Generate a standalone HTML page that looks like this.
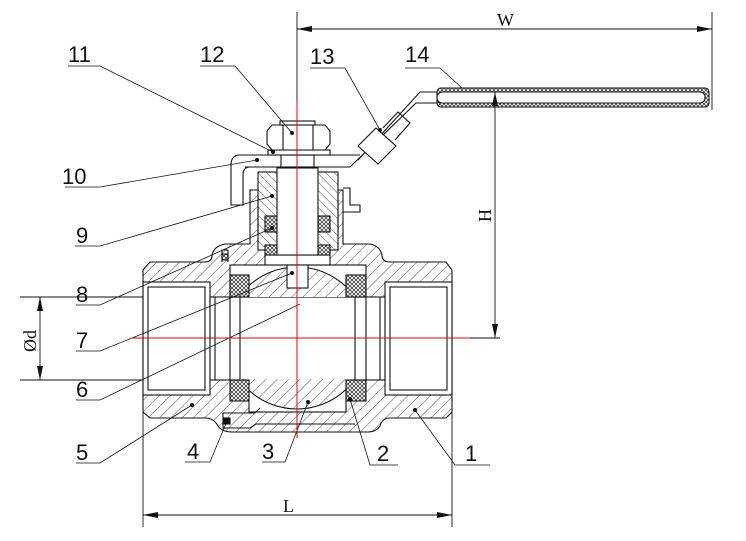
<!DOCTYPE html>
<html><head><meta charset="utf-8"><style>
html,body{margin:0;padding:0;background:#fff}
svg{display:block}
text{font-family:"Liberation Sans",sans-serif;fill:#111}
</style></head><body>
<svg width="746" height="541" viewBox="0 0 746 541" xmlns="http://www.w3.org/2000/svg">
<defs>
<pattern id="h" width="8" height="8" patternUnits="userSpaceOnUse" patternTransform="rotate(45)">
<rect width="8" height="8" fill="#fff"/><line x1="0" y1="0" x2="0" y2="8" stroke="#222" stroke-width="0.8"/></pattern>
<pattern id="h2" width="6" height="6" patternUnits="userSpaceOnUse" patternTransform="rotate(-45)">
<rect width="6" height="6" fill="#fff"/><line x1="0" y1="0" x2="0" y2="6" stroke="#222" stroke-width="0.8"/></pattern>
<pattern id="x" width="4" height="4" patternUnits="userSpaceOnUse">
<rect width="4" height="4" fill="#fff"/><path d="M0 0L4 4M4 0L0 4" stroke="#222" stroke-width="0.7"/></pattern>
<clipPath id="ballclip"><rect x="240" y="250" width="115" height="47"/><rect x="240" y="379" width="115" height="40"/></clipPath>
</defs>
<g stroke="#111" stroke-width="1.1" fill="none">
<!-- body outline -->
<path d="M150 262 L205 262 Q212 262 212 255 Q214 246 225 244 L250 244 L250 190 L343 190 L343 244 L370 244 Q380 246 382 255 Q382 262 390 262 L446 262 L452 270 L452 412 L446 418 L390 418 Q382 418 380 426 Q376 432 368 432 L232 432 Q222 432 218 426 Q214 418 205 418 L150 418 L143 412 L143 270 Z" fill="url(#h)"/>
<!-- bore and end ports -->
<rect x="143" y="282" width="67" height="113" fill="#fff"/>
<rect x="148" y="287" width="57" height="103" fill="#fff"/>
<rect x="385" y="282" width="67" height="113" fill="#fff"/>
<rect x="390" y="287" width="57" height="103" fill="#fff"/>
<rect x="210" y="297" width="175" height="83" fill="#fff"/>
<line x1="215" y1="297" x2="215" y2="380"/><line x1="380" y1="297" x2="380" y2="380"/>
<line x1="230" y1="297" x2="230" y2="380"/><line x1="240" y1="297" x2="240" y2="380"/>
<line x1="355" y1="297" x2="355" y2="380"/><line x1="366" y1="297" x2="366" y2="380"/>
<!-- cavity -->
<rect x="230" y="265" width="136" height="32" fill="#fff"/>
<rect x="249" y="380" width="97" height="32" fill="#fff"/>
<!-- ball -->
<circle cx="297" cy="338" r="71" fill="url(#h)" clip-path="url(#ballclip)"/>
<!-- seats -->
<rect x="230" y="275" width="19" height="22" fill="url(#x)"/>
<rect x="346" y="275" width="20" height="22" fill="url(#x)"/>
<rect x="230" y="380" width="19" height="21" fill="url(#x)"/>
<rect x="346" y="380" width="20" height="21" fill="url(#x)"/>
<!-- bottom body connect -->
<path d="M223 413 L255 413 L260 408 M223 413 L223 428 L250 428 L256 424 L355 424"/>
<rect x="224" y="418" width="6" height="6" fill="#111"/>
<!-- left body joint at top -->
<path d="M222 262 L222 250 L228 250 L228 262"/>
<rect x="222" y="254" width="6" height="6" fill="url(#x)"/>
<!-- neck inner -->
<rect x="258" y="172" width="80" height="78" fill="url(#h2)"/>
<rect x="265" y="255" width="65" height="10" fill="#fff"/>
<rect x="287" y="265" width="21" height="23" fill="#fff"/>
<rect x="265" y="216" width="12" height="16" fill="url(#x)"/>
<rect x="318" y="216" width="12" height="16" fill="url(#x)"/>
<rect x="265" y="245" width="12" height="10" fill="url(#x)"/>
<rect x="318" y="245" width="12" height="10" fill="url(#x)"/>
<line x1="258" y1="195" x2="258" y2="232"/><line x1="338" y1="195" x2="338" y2="232"/>
<!-- stem -->
<rect x="277" y="168" width="41" height="87" fill="#fff"/>
<!-- handle -->
<path d="M358 160 L420 92 L438 92 M350 167 L416 103 L438 103" />
<path d="M240 155 L360 155 M245 167 L350 167 M240 155 Q231 155 231 165 L231 205 L243 205 L243 175 Q243 167 250 167"/>
<rect x="281" y="155" width="33" height="12" fill="#fff"/>
<rect x="437" y="88" width="272" height="19" rx="4" fill="url(#x)"/>
<rect x="437" y="92" width="268" height="11" rx="5" fill="#fff"/>
<!-- handle sleeve 13 -->
<path d="M358 146 L376 128 L396 146 L378 164 Z" fill="#fff"/>
<path d="M383 128 L398 112 L410 123 L395 140"/>
<!-- right stop -->
<path d="M343 188 L350 188 L350 205 L360 205 L360 212 L343 212"/>
<!-- washer / nut -->
<rect x="268" y="150" width="62" height="5" fill="#fff"/>
<path d="M272 125 L325 125 L330 131 L330 144 L325 150 L272 150 L267 144 L267 131 Z" fill="#fff"/>
<line x1="283" y1="125" x2="283" y2="150"/><line x1="313" y1="125" x2="313" y2="150"/>
<rect x="280" y="121" width="35" height="4" fill="#fff"/>
<!-- dimension lines -->
<line x1="297" y1="12" x2="297" y2="100" stroke-width="0.9"/>
<line x1="712" y1="12" x2="712" y2="110" stroke-width="0.9"/>
<line x1="297" y1="29" x2="712" y2="29" stroke-width="0.9"/>
<line x1="495" y1="92" x2="495" y2="338" stroke-width="0.9"/>
<line x1="470" y1="338" x2="500" y2="338" stroke-width="0.9"/>
<line x1="20" y1="297" x2="143" y2="297" stroke-width="0.9"/>
<line x1="20" y1="380" x2="143" y2="380" stroke-width="0.9"/>
<line x1="40" y1="297" x2="40" y2="380" stroke-width="0.9"/>
<line x1="143" y1="412" x2="143" y2="527" stroke-width="0.9"/>
<line x1="452" y1="412" x2="452" y2="527" stroke-width="0.9"/>
<line x1="143" y1="515" x2="452" y2="515" stroke-width="0.9"/>
<!-- leaders -->
<g stroke-width="0.8">
<path d="M68 66 L100 66 L273 152"/>
<path d="M200 66 L235 66 L292 133"/>
<path d="M310 68 L345 68 L380 130"/>
<path d="M405 68 L440 68 L462 88"/>
<path d="M65 187 L100 187 L257 160"/>
<path d="M75 246 L100 246 L272 196"/>
<path d="M76 305 L100 305 L272 228"/>
<path d="M76 351 L100 351 L292 273"/>
<path d="M76 400 L100 400 L300 304"/>
<path d="M76 463 L100 463 L192 405"/>
<path d="M185 462 L210 462 L227 421"/>
<path d="M262 462 L285 462 L308 402"/>
<path d="M398 465 L370 465 L350 399"/>
<path d="M490 465 L455 465 L415 410"/>
</g>
</g>
<!-- arrows -->
<g fill="#111">
<path d="M297 29 L312 26 L312 32Z"/><path d="M712 29 L697 26 L697 32Z"/>
<path d="M495 92 L492 106 L498 106Z"/><path d="M495 338 L492 324 L498 324Z"/>
<path d="M40 297 L37 311 L43 311Z"/><path d="M40 380 L37 366 L43 366Z"/>
<path d="M143 515 L158 512 L158 518Z"/><path d="M452 515 L437 512 L437 518Z"/>
<circle cx="273" cy="152" r="2"/><circle cx="292" cy="133" r="2"/><circle cx="380" cy="130" r="2"/>
<circle cx="257" cy="160" r="2"/><circle cx="272" cy="196" r="2"/><circle cx="272" cy="228" r="2"/>
<circle cx="292" cy="273" r="2"/><circle cx="192" cy="405" r="2"/><circle cx="308" cy="402" r="2"/>
<circle cx="350" cy="399" r="2"/><circle cx="415" cy="410" r="2"/>
</g>
<!-- red centerlines -->
<line x1="297" y1="100" x2="297" y2="438" stroke="#e00" stroke-width="1"/>
<line x1="131" y1="338" x2="470" y2="338" stroke="#e00" stroke-width="1"/>
<!-- labels -->
<g font-size="22">
<text x="68" y="62">11</text><text x="200" y="62">12</text><text x="310" y="64">13</text><text x="405" y="62">14</text>
<text x="62" y="184">10</text><text x="76" y="243">9</text><text x="76" y="302">8</text><text x="76" y="348">7</text>
<text x="76" y="397">6</text><text x="76" y="460">5</text><text x="187" y="459">4</text><text x="262" y="459">3</text>
<text x="377" y="461">2</text><text x="465" y="461">1</text>
</g>
<g font-size="18">
<text x="497" y="26" style="font-family:'Liberation Serif',serif">W</text>
<text x="283" y="512" style="font-family:'Liberation Serif',serif">L</text>
<text transform="translate(491,222) rotate(-90)" style="font-family:'Liberation Serif',serif">H</text>
<text transform="translate(36,352) rotate(-90)" style="font-family:'Liberation Serif',serif">Ød</text>
</g>
</svg>
</body></html>
